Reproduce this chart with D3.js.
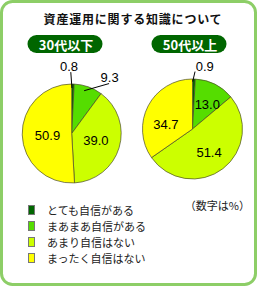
<!DOCTYPE html>
<html>
<head>
<meta charset="utf-8">
<script src="https://cdn.jsdelivr.net/npm/d3@7"></script>
<style>
  body { margin: 0; background: #fff; }
  svg { display: block; }
</style>
</head>
<body>
<svg></svg>
<script>
// data
let title = '資産運用に関する知識について'
let groups = ['30代以下', '50代以上']
let categories = ['とても自信がある', 'まあまあ自信がある', 'あまり自信はない', 'まったく自信はない']
let young = [0.8, 9.3, 39.0, 50.9]
let old = [0.9, 13.0, 51.4, 34.7]
let note = '（数字は%）'

let colors = ['#006600', '#55dd00', '#ccff00', '#ffff00']

let width = 259
let height = 288

// label placement per pie: [radius factor, angle nudge]
let young_labels = [[1.35, -0.065], [1.36, 0.256], [0.51, 0.01], [0.49, -0.034]]
let old_labels = [[1.27, 0.165], [0.58, 0.07], [0.58, 0.046], [0.54, -0.31]]

let svg = d3.select('svg')
  .attr('width', width)
  .attr('height', height)

let font = '"Noto Sans CJK JP", "Noto Sans", sans-serif'

// frame
svg.append('rect')
  .attr('x', 1.5).attr('y', 1.5)
  .attr('width', width - 5).attr('height', height - 5)
  .attr('rx', 11)
  .attr('fill', '#fff')
  .attr('stroke', '#8dce67')
  .attr('stroke-width', 3)

svg.append('text')
  .attr('x', 133).attr('y', 18)
  .attr('text-anchor', 'middle')
  .attr('dominant-baseline', 'central')
  .style('font-family', font)
  .style('font-size', '12px')
  .style('font-weight', 'bold')
  .style('letter-spacing', '0.8px')
  .attr('fill', '#111')
  .text(title)

let xGroup = d3.scalePoint().domain(groups).range([65, 189])

let pills = svg.selectAll('.pill')
  .data(groups)
  .enter()
  .append('g')
  .attr('class', 'pill')
  .attr('transform', d => 'translate(' + xGroup(d) + ', 44)')

pills.append('rect')
  .attr('x', -37.5).attr('y', -9)
  .attr('width', 75).attr('height', 18)
  .attr('rx', 9)
  .attr('fill', '#006600')

pills.append('text')
  .attr('x', 1).attr('y', 0.5)
  .attr('text-anchor', 'middle')
  .attr('dominant-baseline', 'central')
  .style('font-family', font)
  .style('font-size', '13px')
  .style('font-weight', 'bold')
  .attr('fill', '#fff')
  .text(d => d)

let pie = d3.pie().sort(null).value(d => d)

let drawPie = (values, cx, cy, r, labels, leaders) => {
  let g = svg.append('g').attr('transform', 'translate(' + cx + ',' + cy + ')')
  let arc = d3.arc().innerRadius(0).outerRadius(r)
  let slices = pie(values)

  g.selectAll('path')
    .data(slices)
    .enter()
    .append('path')
    .attr('d', arc)
    .attr('fill', (d, i) => colors[i])
    .attr('stroke', '#4a4a2a')
    .attr('stroke-width', 0.7)

  let polar = (a, rr) => [Math.sin(a) * rr, -Math.cos(a) * rr]

  leaders.forEach(l => {
    let s = slices[l[0]]
    let mid = (s.startAngle + s.endAngle) / 2
    let p1 = polar(mid + l[1], l[2] * r)
    let p2 = polar(mid + l[3], l[4] * r)
    g.append('line')
      .attr('x1', p1[0]).attr('y1', p1[1])
      .attr('x2', p2[0]).attr('y2', p2[1])
      .attr('stroke', '#000')
      .attr('stroke-width', 1)
  })

  g.selectAll('text')
    .data(slices)
    .enter()
    .append('text')
    .attr('transform', (d, i) => {
      let mid = (d.startAngle + d.endAngle) / 2 + labels[i][1]
      let p = polar(mid, labels[i][0] * r)
      return 'translate(' + p[0] + ',' + p[1] + ')'
    })
    .attr('text-anchor', 'middle')
    .attr('dominant-baseline', 'central')
    .style('font-family', '"Liberation Sans", Arial, sans-serif')
    .style('font-size', '13px')
    .attr('fill', '#000')
    .text(d => d3.format('.1f')(d.data))
}

// leaders: [slice, angle nudge out, radius out, angle nudge in, radius in]
drawPie(young, 71.7, 133.5, 49.5, young_labels,
  [[0, -0.04, 1.24, -0.02, 0.92], [1, 0.3, 1.26, -0.06, 0.9]])
drawPie(old, 192.5, 129, 50, old_labels,
  [[0, 0.016, 1.15, -0.024, 0.95]])

// legend
let yLegend = d3.scalePoint().domain(categories).range([210, 258])

let legend = svg.selectAll('.legend')
  .data(categories)
  .enter()
  .append('g')
  .attr('class', 'legend')
  .attr('transform', d => 'translate(0,' + yLegend(d) + ')')

legend.append('rect')
  .attr('x', 28.5).attr('y', -4.5)
  .attr('width', 6).attr('height', 9)
  .attr('fill', (d, i) => colors[i])
  .attr('stroke', '#777')
  .attr('stroke-width', 1)

legend.append('text')
  .attr('x', 47).attr('y', 0)
  .attr('dominant-baseline', 'central')
  .style('font-family', font)
  .style('font-size', '11px')
  .attr('fill', '#222')
  .text(d => d)

svg.append('text')
  .attr('x', 250).attr('y', 205)
  .attr('text-anchor', 'end')
  .attr('dominant-baseline', 'central')
  .style('font-family', font)
  .style('font-size', '11px')
  .attr('fill', '#222')
  .text(note)
</script>
</body>
</html>
